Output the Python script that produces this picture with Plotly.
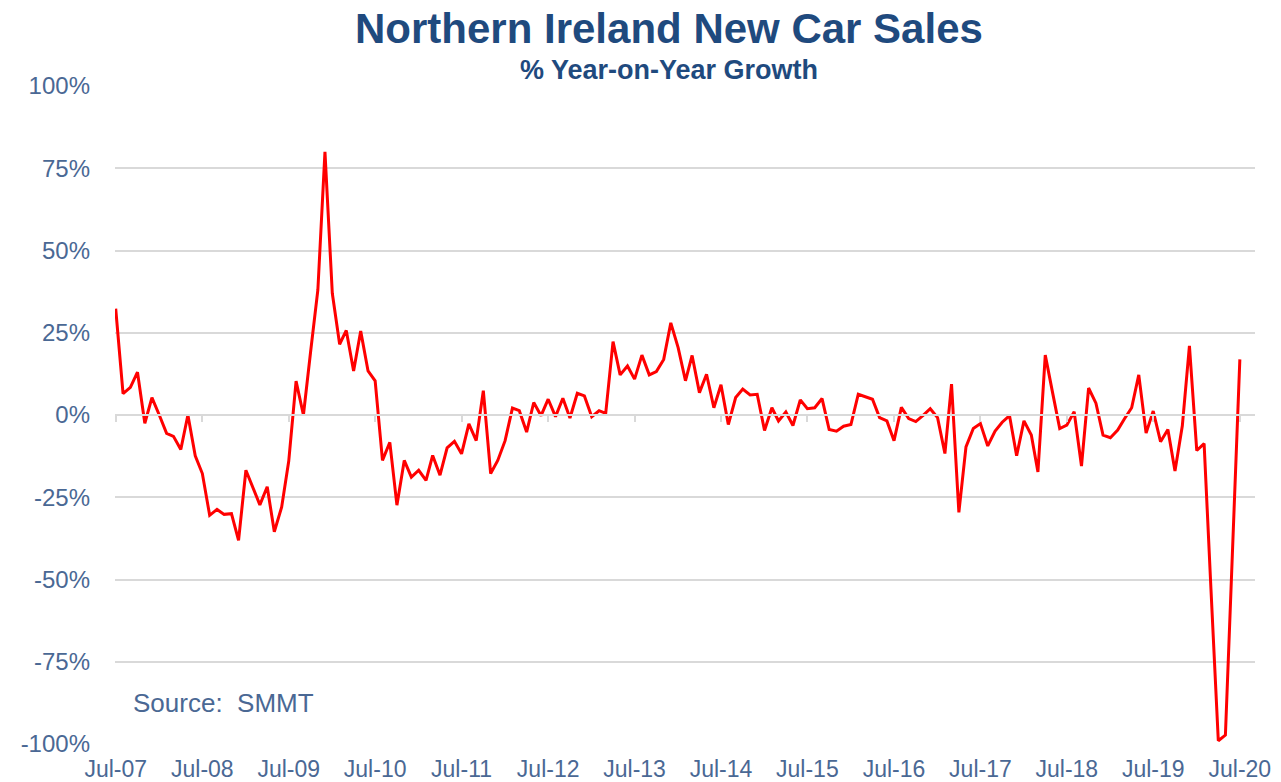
import pandas as pd
import plotly.graph_objects as go

# ---- data ----
start_month = "2007-07-01"
yoy_growth = [
    32.3, 6.5, 8.4, 13.0, -2.5, 5.3, 0.0, -5.6, -6.5, -10.5, 0.0, -12.4,
    -17.8, -30.5, -28.7, -30.2, -30.0, -38.1, -16.8, -22.6, -27.3, -21.8, -35.5, -28.0,
    -14.0, 10.3, 0.0, 19.0, 38.0, 80.0, 37.0, 21.5, 25.7, 13.4, 25.5, 13.4,
    10.4, -13.8, -8.3, -27.4, -13.8, -18.9, -16.8, -19.9, -12.3, -18.3, -10.0, -8.0,
    -11.8, -2.7, -7.8, 7.4, -17.8, -13.8, -7.8, 2.1, 1.3, -5.2, 3.8, -0.2,
    4.8, -0.5, 5.1, -0.9, 6.6, 5.8, -0.5, 1.3, 0.5, 22.3, 12.2, 14.9,
    10.9, 18.2, 12.2, 13.2, 16.9, 28.0, 20.5, 10.4, 18.1, 6.8, 12.4, 2.2,
    9.2, -2.9, 5.3, 7.9, 6.1, 6.3, -4.7, 2.2, -1.8, 0.9, -3.2, 4.6,
    1.9, 2.2, 5.0, -4.4, -4.9, -3.4, -2.9, 6.3, 5.5, 4.8, -0.8, -1.8,
    -7.8, 2.3, -1.1, -2.0, -0.1, 1.9, -0.8, -11.7, 9.4, -29.6, -9.7, -4.1,
    -2.6, -9.4, -4.9, -2.2, -0.2, -12.4, -1.8, -6.1, -17.3, 18.2, 7.1, -4.1,
    -3.1, 1.0, -15.5, 8.2, 3.6, -6.1, -6.9, -4.6, -1.2, 2.2, 12.2, -5.5,
    1.2, -8.1, -4.4, -17.0, -3.3, 21.0, -10.8, -8.7, -53.0, -99.0, -97.3, -40.0,
    16.9,
]
months = pd.date_range(start_month, periods=len(yoy_growth), freq="MS")

y_tick_values = [100, 75, 50, 25, 0, -25, -50, -75, -100]
y_tick_labels = ["100%", "75%", "50%", "25%", "0%", "-25%", "-50%", "-75%", "-100%"]
x_tick_dates = pd.date_range("2007-07-01", "2020-07-01", freq="12MS")
x_tick_labels = [d.strftime("%b-%y") for d in x_tick_dates]

title_text = "Northern Ireland New Car Sales"
subtitle_text = "% Year-on-Year Growth"
source_text = "Source:  SMMT"

# ---- styling ----
FONT = "Liberation Sans, Arial, sans-serif"
TITLE_COLOR = "#1F4A7E"
AXIS_COLOR = "#4A6894"
GRID_COLOR = "#D9D9D9"
x_range = ["2007-06-28", "2020-09-03"]

fig = go.Figure()
fig.add_trace(go.Scatter(
    x=months, y=yoy_growth, mode="lines",
    line=dict(color="#FF0000", width=3),
    hoverinfo="x+y", showlegend=False,
))
# invisible trace for the zero-line tick axis
fig.add_trace(go.Scatter(
    x=[months[0], months[-1]], y=[0, 0], xaxis="x2", mode="lines",
    line=dict(width=0), hoverinfo="skip", showlegend=False,
))

# page body adds an 8px offset, so margins are reduced accordingly
fig.update_layout(
    width=1281, height=782,
    margin=dict(l=107, r=34, t=78, b=46, autoexpand=False),
    paper_bgcolor="white", plot_bgcolor="white",
    font=dict(family=FONT, color=AXIS_COLOR),
    xaxis=dict(
        type="date", range=x_range, automargin=False,
        tickvals=list(x_tick_dates), ticktext=x_tick_labels,
        showgrid=False, zeroline=False, showline=False, ticks="",
        tickfont=dict(size=23, color=AXIS_COLOR, family=FONT),
        ticklabelstandoff=9,
    ),
    xaxis2=dict(
        type="date", range=x_range, overlaying="x", anchor="free", position=0.5,
        side="bottom", automargin=False,
        tickvals=list(x_tick_dates), showticklabels=False,
        showgrid=False, zeroline=False, showline=True,
        linecolor=GRID_COLOR, linewidth=1.5,
        ticks="outside", ticklen=6, tickwidth=1.5, tickcolor=GRID_COLOR,
    ),
    yaxis=dict(
        range=[-100, 100], tickvals=y_tick_values, ticktext=y_tick_labels,
        automargin=False,
        showgrid=True, gridcolor=GRID_COLOR, gridwidth=1.5,
        zeroline=False, showline=False, ticks="",
        tickfont=dict(size=24, color=AXIS_COLOR, family=FONT),
        ticklabelstandoff=24,
    ),
    annotations=[
        dict(text="<b>" + title_text + "</b>", xref="paper", yref="paper",
             x=0.486, y=1.088, xanchor="center", yanchor="middle", showarrow=False,
             font=dict(size=42, color=TITLE_COLOR, family=FONT)),
        dict(text="<b>" + subtitle_text + "</b>", xref="paper", yref="paper",
             x=0.486, y=1.0243, xanchor="center", yanchor="middle", showarrow=False,
             font=dict(size=27, color=TITLE_COLOR, family=FONT)),
        dict(text=source_text, xref="paper", yref="paper",
             x=0.014, y=0.062, xanchor="left", yanchor="middle", showarrow=False,
             font=dict(size=26, color=AXIS_COLOR, family=FONT)),
    ],
)

fig.write_html("out.html")
